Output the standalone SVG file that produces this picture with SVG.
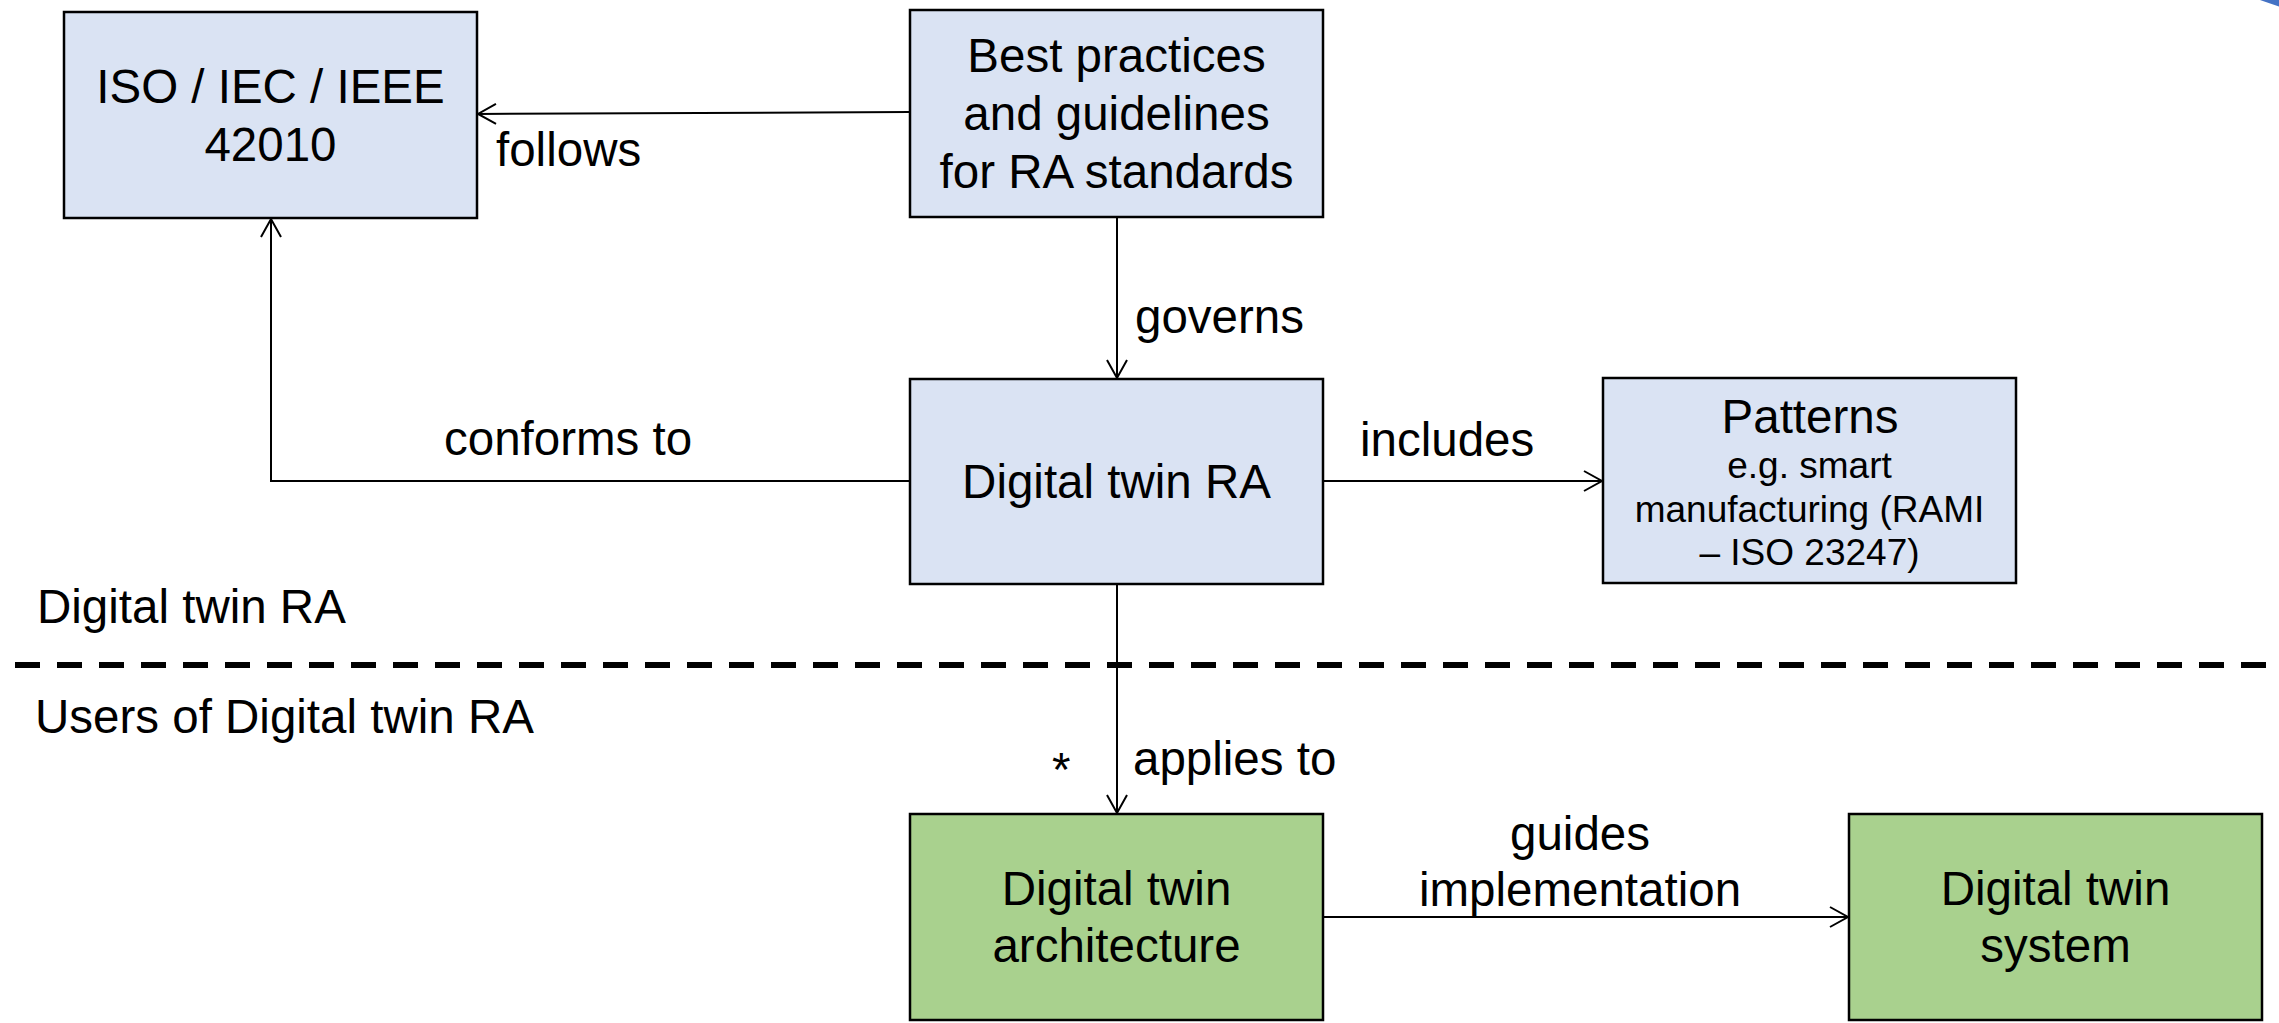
<svg xmlns="http://www.w3.org/2000/svg" width="2279" height="1023" viewBox="0 0 2279 1023">
  <style>
    text { font-family: "Liberation Sans", Arial, sans-serif; fill: #000; }
    .t { font-size: 47.5px; text-anchor: middle; }
    .lbl { font-size: 47.5px; }
    .title { font-size: 47.5px; text-anchor: middle; }
    .small { font-size: 37px; text-anchor: middle; }
    .box-blue { fill: #DAE3F3; stroke: #000; stroke-width: 2.5; }
    .box-green { fill: #A9D18E; stroke: #000; stroke-width: 2.5; }
    .conn { fill: none; stroke: #000; stroke-width: 2; }
    .divider { fill: none; stroke: #000; stroke-width: 6; stroke-dasharray: 25 17; }
  </style>
  <defs>
    <marker id="arrow" markerUnits="userSpaceOnUse" markerWidth="26" markerHeight="26" refX="20" refY="12" orient="auto" overflow="visible">
      <path d="M2,2 L20,12 L2,22" fill="none" stroke="#000" stroke-width="2"/>
    </marker>
  </defs>

  <rect width="2279" height="1023" fill="#fff"/>

  <!-- corner ornament -->
  <path d="M2260,0 Q2270,3.5 2279,6.5 L2279,0 Z" fill="#4472C4"/>

  <!-- section divider -->
  <line class="divider" x1="15" y1="665" x2="2279" y2="665"/>
  <text class="lbl" x="37" y="623">Digital twin RA</text>
  <text class="lbl" x="35" y="733">Users of Digital twin RA</text>

  <g id="connectors">
    <!-- follows -->
    <line class="conn" x1="910" y1="112" x2="478" y2="114" marker-end="url(#arrow)"/>
    <text class="lbl" x="496" y="166">follows</text>
    <!-- governs -->
    <line class="conn" x1="1117" y1="217" x2="1117" y2="378" marker-end="url(#arrow)"/>
    <text class="lbl" x="1135" y="333">governs</text>
    <!-- conforms to -->
    <polyline class="conn" points="910,481 271,481 271,219" marker-end="url(#arrow)"/>
    <text class="lbl" x="444" y="455">conforms to</text>
    <!-- includes -->
    <line class="conn" x1="1323" y1="481" x2="1602" y2="481" marker-end="url(#arrow)"/>
    <text class="lbl" x="1360" y="456">includes</text>
    <!-- applies to -->
    <line class="conn" x1="1117" y1="584" x2="1117" y2="813" marker-end="url(#arrow)"/>
    <text class="lbl" x="1052" y="786">*</text>
    <text class="lbl" x="1133" y="775">applies to</text>
    <!-- guides implementation -->
    <line class="conn" x1="1323" y1="917" x2="1848" y2="917" marker-end="url(#arrow)"/>
    <text class="t" x="1580" y="850">guides</text>
    <text class="t" x="1580" y="906">implementation</text>
  </g>

  <g id="iso-42010">
    <rect class="box-blue" x="64" y="12" width="413" height="206"/>
    <text class="t" x="270.5" y="103">ISO / IEC / IEEE</text>
    <text class="t" x="270.5" y="161">42010</text>
  </g>

  <g id="best-practices">
    <rect class="box-blue" x="910" y="10" width="413" height="207"/>
    <text class="t" x="1116.5" y="72">Best practices</text>
    <text class="t" x="1116.5" y="130">and guidelines</text>
    <text class="t" x="1116.5" y="188">for RA standards</text>
  </g>

  <g id="digital-twin-ra">
    <rect class="box-blue" x="910" y="379" width="413" height="205"/>
    <text class="t" x="1116.5" y="498">Digital twin RA</text>
  </g>

  <g id="patterns">
    <rect class="box-blue" x="1603" y="378" width="413" height="205"/>
    <text class="title" x="1810" y="433">Patterns</text>
    <text class="small" x="1809.5" y="478">e.g. smart</text>
    <text class="small" x="1809.5" y="522">manufacturing (RAMI</text>
    <text class="small" x="1809.5" y="565">– ISO 23247)</text>
  </g>

  <g id="dt-architecture">
    <rect class="box-green" x="910" y="814" width="413" height="206"/>
    <text class="t" x="1116.5" y="905">Digital twin</text>
    <text class="t" x="1116.5" y="962">architecture</text>
  </g>

  <g id="dt-system">
    <rect class="box-green" x="1849" y="814" width="413" height="206"/>
    <text class="t" x="2055.5" y="905">Digital twin</text>
    <text class="t" x="2055.5" y="962">system</text>
  </g>
</svg>
